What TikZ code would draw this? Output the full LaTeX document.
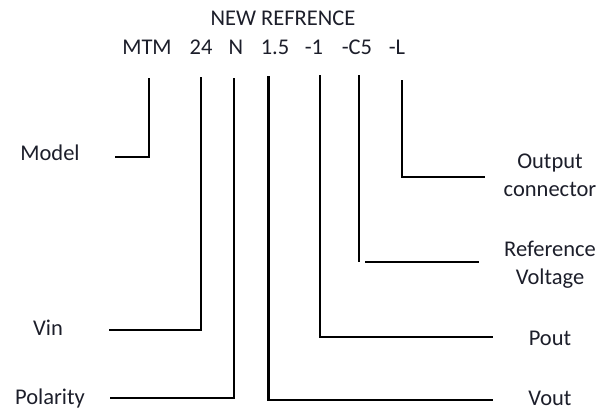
\documentclass[tikz,border=0pt]{standalone}
\usepackage{fontspec}
\setmainfont{Carlito}
\definecolor{inkcol}{RGB}{28,30,42}
\tikzset{
    lbl/.style={anchor=base, inner sep=0pt, text=inkcol, font=\fontsize{22.5}{28}\selectfont, align=center},
    lead/.style={line width=2.8pt, black}
}
\begin{document}
\begin{tikzpicture}[x=1pt, y=-1pt]
        \useasboundingbox (0,0) rectangle (612,410);
        % part number
        \node[lbl] (title) at (283, 25) {NEW REFRENCE};
        \node[lbl] (mtm) at (147, 54) {MTM};
        \node[lbl] (24) at (201, 54) {24};
        \node[lbl] (n) at (236, 54) {N};
        \node[lbl] (15) at (275, 54) {1.5};
        \node[lbl] (m1) at (314, 54) {-1};
        \node[lbl] (c5) at (357, 54) {-C5};
        \node[lbl] (l) at (397, 54) {-L};
        % meanings
        \node[lbl] (model) at (50, 160.5) {Model};
        \node[lbl] (vin) at (48, 335) {Vin};
        \node[lbl] (polarity) at (50, 404) {Polarity};
        \node[lbl] (output) at (550, 196) {Output\\connector};
        \node[lbl] (refv) at (550, 284) {Reference\\Voltage};
        \node[lbl] (pout) at (550, 345) {Pout};
        \node[lbl] (vout) at (550, 405) {Vout};
        % lead ends
        \coordinate (mtm-a) at (149, 78);
        \coordinate (model-a) at (115, 157);
        \coordinate (24-a) at (201, 77);
        \coordinate (vin-a) at (109, 330);
        \coordinate (n-a) at (234, 78);
        \coordinate (polarity-a) at (110, 398);
        \coordinate (15-a) at (268.5, 76);
        \coordinate (vout-a) at (493, 400);
        \coordinate (m1-a) at (320, 75);
        \coordinate (pout-a) at (493, 337);
        \coordinate (c5-a) at (359, 75);
        \coordinate (c5-b) at (359, 262);
        \coordinate (refv-a) at (365, 262);
        \coordinate (refv-b) at (479, 262);
        \coordinate (l-a) at (402, 80);
        \coordinate (output-a) at (485, 177);
        \draw[lead] (mtm-a) |- (model-a);
        \draw[lead] (24-a) |- (vin-a);
        \draw[lead] (n-a) |- (polarity-a);
        \draw[lead] (15-a) |- (vout-a);
        \draw[lead] (m1-a) |- (pout-a);
        \draw[lead] (c5-a) -- (c5-b);
        \draw[lead] (refv-a) -- (refv-b);
        \draw[lead] (l-a) |- (output-a);
    \end{tikzpicture}
\end{document}
